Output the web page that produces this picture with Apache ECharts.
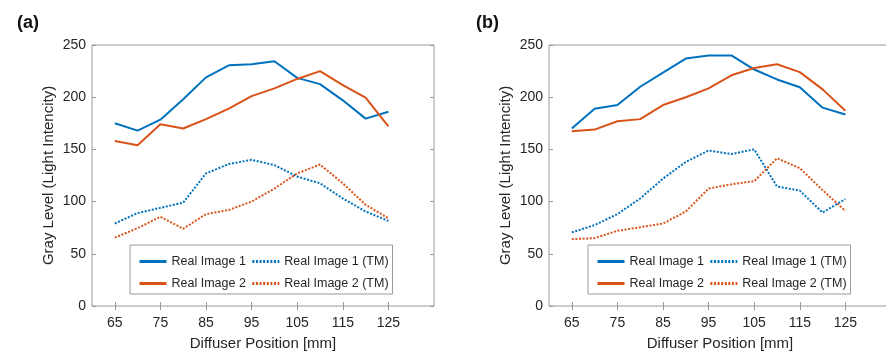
<!DOCTYPE html>
<html>
<head>
<meta charset="utf-8">
<script src="https://cdn.jsdelivr.net/npm/echarts@6/dist/echarts.min.js"></script>
<style>
html,body{margin:0;padding:0;background:#fff;}
#chart{width:886px;height:352px;}
</style>
</head>
<body>
<div id="chart"></div>
<script>
// ---- data ----
const positions = [65, 70, 75, 80, 85, 90, 95, 100, 105, 110, 115, 120, 125];
const tickValues = [65, 75, 85, 95, 105, 115, 125];
const seriesNames = ['Real Image 1', 'Real Image 1 (TM)', 'Real Image 2', 'Real Image 2 (TM)'];

const aReal1   = [175, 168, 178.5, 198, 219, 230.5, 231.5, 234.5, 218.5, 212.5, 197, 179.5, 186];
const aReal2   = [158, 154, 174, 170, 179, 189, 201, 208.5, 217.5, 225, 211.5, 199.5, 172];
const aReal1TM = [79, 89, 94, 99, 127, 136, 140, 135, 124, 117.5, 103, 90.5, 81.5];
const aReal2TM = [65.5, 74.5, 85.5, 74, 88, 92, 100, 112.5, 127, 135.5, 117.5, 97, 84];

const bReal1   = [170, 189, 192.5, 210, 223.5, 237, 240, 240, 226.5, 217, 209.5, 190, 183.5];
const bReal2   = [167.5, 169, 177, 179, 192.5, 200, 208.5, 221, 228, 231.5, 224, 207.5, 187];
const bReal1TM = [70.5, 77.5, 88, 103, 122, 138, 149, 145.5, 150, 114.5, 110.5, 89.5, 102.5];
const bReal2TM = [64, 65, 72, 75.5, 79, 90.5, 112.5, 116.5, 119.5, 141.5, 132, 111, 91];

// ---- styles ----
const BLUE = '#0072BD';
const ORANGE = '#D95319';
const FONT = 'Liberation Sans, Arial, Helvetica, sans-serif';
const TXT = '#262626';
const BOX = '#9a9a9a';

function pairs(vals) { return positions.map((x, i) => [x, vals[i]]); }

function xAxes(gridIndex) {
  const common = {
    type: 'value', gridIndex, min: 60, max: 135, interval: 5,
    splitLine: { show: false },
    axisLine: { show: false }
  };
  return [
    Object.assign({}, common, {
      position: 'bottom',
      name: 'Diffuser Position [mm]', nameLocation: 'middle', nameGap: 30,
      nameTextStyle: { fontSize: 15, color: TXT, fontFamily: FONT },
      axisTick: { show: true, inside: true, length: 4, lineStyle: { color: BOX }, customValues: tickValues },
      axisLabel: { customValues: tickValues, fontSize: 14, color: TXT, fontFamily: FONT, margin: 10 }
    }),
    Object.assign({}, common, {
      position: 'top',
      axisTick: { show: true, inside: true, length: 4, lineStyle: { color: BOX }, customValues: tickValues },
      axisLabel: { show: false }
    })
  ];
}

function yAxes(gridIndex) {
  const common = {
    type: 'value', gridIndex, min: 0, max: 250, interval: 50,
    splitLine: { show: false },
    axisLine: { show: false },
    axisTick: { show: true, inside: true, length: 4, lineStyle: { color: BOX } }
  };
  return [
    Object.assign({}, common, {
      position: 'left',
      name: 'Gray Level (Light Intencity)', nameLocation: 'middle', nameGap: 36,
      nameTextStyle: { fontSize: 15, color: TXT, fontFamily: FONT },
      axisLabel: { fontSize: 14, color: TXT, fontFamily: FONT, margin: 6 }
    }),
    Object.assign({}, common, {
      position: 'right',
      axisLabel: { show: false }
    })
  ];
}

function mkSeries(name, vals, color, dotted, axisIdx) {
  return {
    type: 'line', name, data: pairs(vals),
    xAxisIndex: axisIdx, yAxisIndex: axisIdx,
    symbol: 'none', showSymbol: false,
    color,
    lineStyle: { width: 2, color, type: dotted ? [2, 1.6] : 'solid' },
    z: 3
  };
}

const legendCommon = {
  orient: 'horizontal',
  itemWidth: 27, itemHeight: 16, itemGap: 5,
  itemStyle: { opacity: 0 },
  lineStyle: { width: 3 },
  textStyle: { fontSize: 12.5, color: TXT, fontFamily: FONT },
  selectedMode: false
};

function legendsAt(left) {
  return [
    Object.assign({}, legendCommon, {
      data: seriesNames.slice(0, 2),
      left, top: 245,
      padding: [10, 4, 26, 8],
      backgroundColor: '#fff',
      borderColor: BOX, borderWidth: 1, borderRadius: 0,
      z: 6
    }),
    Object.assign({}, legendCommon, {
      data: seriesNames.slice(2, 4),
      left: left + 8, top: 277,
      padding: 0,
      backgroundColor: 'transparent',
      z: 7
    })
  ];
}

const gridCommon = { top: 45, width: 342, height: 261, show: true, borderColor: BOX, borderWidth: 1,
  backgroundColor: 'transparent', containLabel: false, outerBoundsMode: 'none' };

const option = {
  animation: false,
  backgroundColor: '#fff',
  title: [
    { text: '(a)', left: 12, top: 9, textStyle: { fontSize: 18, fontWeight: 'bold', color: '#111', fontFamily: FONT } },
    { text: '(b)', left: 471, top: 9, textStyle: { fontSize: 18, fontWeight: 'bold', color: '#111', fontFamily: FONT } }
  ],
  grid: [
    Object.assign({ left: 92 }, gridCommon),
    Object.assign({ left: 549 }, gridCommon)
  ],
  xAxis: [...xAxes(0), ...xAxes(1)],
  yAxis: [...yAxes(0), ...yAxes(1)],
  legend: [...legendsAt(130), ...legendsAt(588)],
  series: [
    mkSeries(seriesNames[0], aReal1, BLUE, false, 0),
    mkSeries(seriesNames[1], aReal1TM, BLUE, true, 0),
    mkSeries(seriesNames[2], aReal2, ORANGE, false, 0),
    mkSeries(seriesNames[3], aReal2TM, ORANGE, true, 0),
    mkSeries(seriesNames[0], bReal1, BLUE, false, 2),
    mkSeries(seriesNames[1], bReal1TM, BLUE, true, 2),
    mkSeries(seriesNames[2], bReal2, ORANGE, false, 2),
    mkSeries(seriesNames[3], bReal2TM, ORANGE, true, 2)
  ]
};

const chart = echarts.init(document.getElementById('chart'), null, { renderer: 'canvas' });
chart.setOption(option);
</script>
</body>
</html>
